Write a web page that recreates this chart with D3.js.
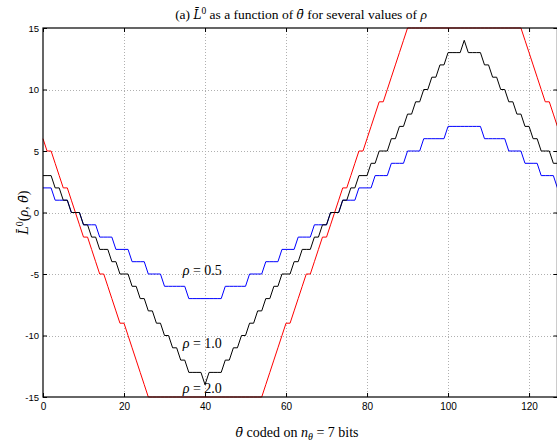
<!DOCTYPE html>
<html>
<head>
<meta charset="utf-8">
<script src="https://cdn.jsdelivr.net/npm/d3@7/dist/d3.min.js"></script>
<style>
  body { margin: 0; background: #fff; }
  text { fill: #000; }
</style>
</head>
<body>
<div id="chart"></div>
<script>
// theta index 0..127 (7 bits)
const thetaValues = d3.range(0, 128);

// values, one per theta
const lRho05 = [
   2, 2, 2, 1, 1, 1, 1, 0, 0, 0,-1,-1,-1,-1,-2,-2,
  -2,-2,-3,-3,-3,-3,-4,-4,-4,-4,-5,-5,-5,-5,-6,-6,
  -6,-6,-6,-6,-7,-7,-7,-7,-7,-7,-7,-7,-7,-6,-6,-6,
  -6,-6,-6,-5,-5,-5,-5,-4,-4,-4,-4,-3,-3,-3,-3,-2,
  -2,-2,-2,-1,-1,-1,-1, 0, 0, 0, 1, 1, 1, 1, 2, 2,
   2, 2, 3, 3, 3, 3, 4, 4, 4, 4, 5, 5, 5, 5, 6, 6,
   6, 6, 6, 6, 7, 7, 7, 7, 7, 7, 7, 7, 7, 6, 6, 6,
   6, 6, 6, 5, 5, 5, 5, 4, 4, 4, 4, 3, 3, 3, 3, 2
];
const lRho10 = [
   3, 3, 3, 2, 2, 1, 1, 0, 0, 0,-1,-1,-2,-2,-3,-3,
  -3,-4,-4,-5,-5,-5,-6,-6,-7,-7,-8,-8,-9,-9,-10,-10,
  -11,-11,-12,-12,-13,-13,-13,-13,-14,-13,-13,-13,-13,-12,-12,-11,
  -11,-10,-10,-9,-9,-8,-8,-7,-7,-6,-6,-5,-5,-5,-4,-4,
  -3,-3,-3,-2,-2,-1,-1, 0, 0, 0, 1, 1, 2, 2, 3, 3,
   3, 4, 4, 5, 5, 5, 6, 6, 7, 7, 8, 8, 9, 9,10,10,
  11,11,12,12,13,13,13,13,14,13,13,13,13,12,12,11,
  11,10,10, 9, 9, 8, 8, 7, 7, 6, 6, 5, 5, 5, 4, 4
];
const lRho20 = [
   6, 5, 5, 4, 3, 2, 2, 1, 0,-1,-2,-2,-3,-4,-5,-5,
  -6,-7,-8,-9,-9,-10,-11,-12,-13,-14,-15,-15,-15,-15,-15,-15,
  -15,-15,-15,-15,-15,-15,-15,-15,-15,-15,-15,-15,-15,-15,-15,-15,
  -15,-15,-15,-15,-15,-15,-15,-14,-13,-12,-11,-10,-9,-9,-8,-7,
  -6,-5,-5,-4,-3,-2,-2,-1, 0, 1, 2, 2, 3, 4, 5, 5,
   6, 7, 8, 9, 9,10,11,12,13,14,15,15,15,15,15,15,
  15,15,15,15,15,15,15,15,15,15,15,15,15,15,15,15,
  15,15,15,15,15,15,15,14,13,12,11,10, 9, 9, 8, 7
];

const xTicks = [0, 20, 40, 60, 80, 100, 120];
const yTicks = [-15, -10, -5, 0, 5, 10, 15];

const series = [
  { name: "0.5", values: lRho05, color: "#0000ff" },
  { name: "2.0", values: lRho20, color: "#ff0000" },
  { name: "1.0", values: lRho10, color: "#000000" }
];

const width = 557, height = 443;
const plotLeft = 43, plotRight = 557.4, plotTop = 28, plotBottom = 397;

const svg = d3.select("#chart").append("svg")
  .attr("width", width)
  .attr("height", height);

const x = d3.scaleLinear().domain([0, 127]).range([plotLeft, plotRight]);
const y = d3.scaleLinear().domain([-15, 15]).range([plotBottom, plotTop]);

// grid
const grid = svg.append("g")
  .attr("stroke", "#b0b0b0")
  .attr("stroke-width", 1)
  .attr("stroke-dasharray", "1,2");
grid.selectAll(".gx").data(xTicks.slice(1))
  .join("line")
  .attr("x1", d => Math.round(x(d)) + 0.5).attr("x2", d => Math.round(x(d)) + 0.5)
  .attr("y1", plotTop).attr("y2", plotBottom);
grid.selectAll(".gy").data(yTicks.slice(1, -1))
  .join("line")
  .attr("y1", d => Math.round(y(d)) + 0.5).attr("y2", d => Math.round(y(d)) + 0.5)
  .attr("x1", plotLeft).attr("x2", plotRight);

// axes, matlab style: ticks inside, on all four sides
const axisFont = "'Liberation Sans', Arial, sans-serif";
const gx = svg.append("g")
  .attr("transform", `translate(0,${plotBottom})`)
  .call(d3.axisBottom(x).tickValues(xTicks).tickSize(-4).tickPadding(6).tickFormat(d3.format("d")));
const gxTop = svg.append("g")
  .attr("transform", `translate(0,${plotTop})`)
  .call(d3.axisTop(x).tickValues(xTicks).tickSize(-4).tickFormat(""));
const gy = svg.append("g")
  .attr("transform", `translate(${plotLeft},0)`)
  .call(d3.axisLeft(y).tickValues(yTicks).tickSize(-4).tickPadding(4)
    .tickFormat(d => String(d)));
const gyRight = svg.append("g")
  .attr("transform", `translate(${plotRight},0)`)
  .call(d3.axisRight(y).tickValues(yTicks).tickSize(-4).tickFormat(""));

[gx, gxTop, gy, gyRight].forEach(g => {
  g.select(".domain").remove();
  g.selectAll("text").attr("font-family", axisFont).attr("font-size", 10).attr("fill", "#000");
  g.selectAll("line").attr("stroke", "#000");
});
gy.selectAll("text").attr("font-size", 9.5);

// curves
const line = d3.line()
  .x((d, i) => x(thetaValues[i]))
  .y(d => y(d));

svg.append("g").selectAll("path")
  .data(series)
  .join("path")
  .attr("d", d => line(d.values))
  .attr("fill", "none")
  .attr("stroke", d => d.color)
  .attr("stroke-width", 1);

// box
svg.append("rect")
  .attr("x", plotLeft).attr("y", plotTop)
  .attr("width", plotRight - plotLeft).attr("height", plotBottom - plotTop)
  .attr("fill", "none")
  .attr("stroke", "#000")
  .attr("stroke-width", 1.2);

const serif = "'Liberation Serif', 'DejaVu Serif', serif";
const accentFont = "'DejaVu Serif', serif";

// rho labels
const rhoLabels = [
  { text: "0.5", t: 34.5, v: -5.1 },
  { text: "1.0", t: 34.5, v: -11.0 },
  { text: "2.0", t: 34.5, v: -14.7 }
];
const rl = svg.append("g").attr("font-family", serif).attr("font-size", 14);
rhoLabels.forEach(r => {
  const t = rl.append("text").attr("x", x(r.t)).attr("y", y(r.v));
  t.append("tspan").attr("font-style", "italic").text("\u03c1");
  t.append("tspan").text(" = " + r.text);
});

// title
const title = svg.append("text")
  .attr("x", 301).attr("y", 19)
  .attr("text-anchor", "middle")
  .attr("font-family", serif).attr("font-size", 13.5);
title.append("tspan").text("(a) ");
title.append("tspan").attr("font-style", "italic").attr("font-family", accentFont).attr("font-size", 12).text("L\u0304");
title.append("tspan").attr("font-size", 9.5).attr("dy", -5).text("0");
title.append("tspan").attr("dy", 5).text(" as a function of ");
title.append("tspan").attr("font-style", "italic").attr("font-family", accentFont).attr("font-size", 12).text("\u03b8\u0304");
title.append("tspan").text(" for several values of ");
title.append("tspan").attr("font-style", "italic").text("\u03c1");

// x label
const xl = svg.append("text")
  .attr("x", 297).attr("y", 437)
  .attr("text-anchor", "middle")
  .attr("font-family", serif).attr("font-size", 14);
xl.append("tspan").attr("font-style", "italic").attr("font-family", accentFont).attr("font-size", 12.5).text("\u03b8\u0304");
xl.append("tspan").text(" coded on ");
xl.append("tspan").attr("font-style", "italic").text("n");
xl.append("tspan").attr("font-style", "italic").attr("font-size", 10).attr("dy", 3).text("\u03b8");
xl.append("tspan").attr("dy", -3).text(" = 7 bits");

// y label
const yl = svg.append("text")
  .attr("transform", `translate(28,${y(0)}) rotate(-90)`)
  .attr("text-anchor", "middle")
  .attr("font-family", serif).attr("font-size", 14);
yl.append("tspan").attr("font-style", "italic").attr("font-family", accentFont).attr("font-size", 12.5).text("L\u0304");
yl.append("tspan").attr("font-size", 10).attr("dy", -5).text("0");
yl.append("tspan").attr("dy", 5).text("(");
yl.append("tspan").attr("font-style", "italic").text("\u03c1");
yl.append("tspan").text(", ");
yl.append("tspan").attr("font-style", "italic").attr("font-family", accentFont).attr("font-size", 12.5).text("\u03b8\u0304");
yl.append("tspan").text(")");
</script>
</body>
</html>
